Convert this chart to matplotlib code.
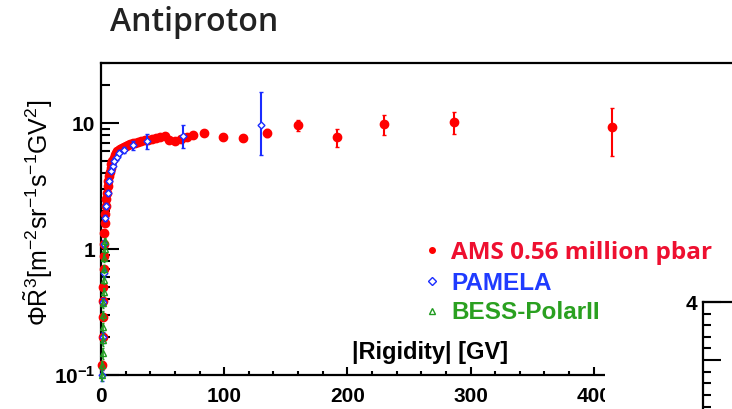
import matplotlib
matplotlib.use('Agg')
import matplotlib.pyplot as plt
from matplotlib.ticker import MultipleLocator, LogLocator, FuncFormatter, NullFormatter
from matplotlib.lines import Line2D
from matplotlib.patches import Rectangle

plt.rcParams['font.family'] = ['Liberation Sans', 'DejaVu Sans']
plt.rcParams['mathtext.fontset'] = 'custom'
plt.rcParams['mathtext.rm'] = 'Liberation Sans'
plt.rcParams['mathtext.it'] = 'Liberation Sans:italic'
plt.rcParams['mathtext.bf'] = 'Liberation Sans:bold'

# AMS antiproton, |R| [GV] vs flux * R^3
ams_rig = [1.1, 1.3, 1.5, 1.7, 1.9, 2.1, 2.3, 2.5, 2.8, 3.1,
           3.5, 3.9, 4.3, 4.8, 5.3, 5.9, 6.5, 7.1, 7.8, 8.5,
           9.3, 10.2, 11.2, 12.2, 13.3, 14.5, 15.8, 17.2, 18.7, 20.3,
           22.0, 23.9, 25.9, 28.0, 30.3, 32.8, 35.4, 38.2, 41.2, 44.4,
           47.9, 51.6, 55.6, 60.0, 64.6, 69.5, 74.8, 84, 99, 115,
           135, 160, 192, 230, 287, 415]
ams_val = [0.12, 0.2, 0.29, 0.39, 0.5, 0.7, 0.88, 1.1, 1.35, 1.6,
           1.9, 2.2, 2.5, 2.8, 3.15, 3.5, 3.8, 4.1, 4.4, 4.7,
           5.0, 5.3, 5.55, 5.75, 5.95, 6.1, 6.25, 6.4, 6.5, 6.6,
           6.7, 6.8, 6.9, 7.0, 7.1, 7.2, 7.3, 7.35, 7.45, 7.55,
           7.7, 7.9, 7.3, 7.2, 7.5, 7.8, 8.0, 8.3, 7.7, 7.6,
           8.3, 9.6, 7.7, 9.8, 10.2, 9.3]
ams_err = [0.01, 0.01, 0.015, 0.02, 0.02, 0.03, 0.03, 0.04, 0.04, 0.05,
           0.05, 0.06, 0.06, 0.07, 0.07, 0.08, 0.08, 0.09, 0.09, 0.1,
           0.1, 0.1, 0.11, 0.11, 0.12, 0.12, 0.13, 0.13, 0.14, 0.14,
           0.15, 0.15, 0.16, 0.16, 0.17, 0.17, 0.18, 0.18, 0.19, 0.2,
           0.2, 0.21, 0.22, 0.23, 0.24, 0.25, 0.27, 0.3, 0.32, 0.36,
           0.6, 0.9, 1.25, 1.7, 2.0, 3.8]

# PAMELA
pam_rig = [1.2, 1.5, 1.8, 2.1, 2.5, 3.2, 4.1, 5.7, 6.5, 8.1, 9.7, 10.6,
           13, 14.6, 18.7, 26, 37.3, 66.5, 130]
pam_val = [0.1, 0.2, 0.38, 0.65, 1.1, 1.76, 2.2, 2.8, 3.5, 4.2, 4.55, 5.0,
           5.4, 5.8, 6.1, 6.7, 7.2, 7.9, 9.7]
pam_lo = [0.01, 0.02, 0.03, 0.05, 0.07, 0.1, 0.12, 0.14, 0.16, 0.2, 0.22, 0.25,
          0.28, 0.3, 0.35, 0.55, 0.95, 1.6, 4.1]
pam_hi = [0.01, 0.02, 0.03, 0.05, 0.07, 0.1, 0.12, 0.14, 0.16, 0.2, 0.22, 0.25,
          0.28, 0.3, 0.35, 0.55, 0.95, 1.7, 7.9]

# BESS-PolarII
bess_rig = [1.0, 1.15, 1.3, 1.45, 1.6, 1.75, 1.9, 2.1, 2.3, 2.5, 2.75, 3.0, 3.3]
bess_val = [0.1, 0.12, 0.15, 0.19, 0.24, 0.3, 0.37, 0.46, 0.57, 0.7, 0.85, 1.0, 1.15]
bess_err = [0.01, 0.01, 0.015, 0.02, 0.02, 0.025, 0.03, 0.035, 0.04, 0.05, 0.06, 0.07, 0.08]

labels = ['AMS 0.56 million pbar', 'PAMELA', 'BESS-PolarII']
colors = ['#ff0000', '#1a2cff', '#1f9a1f']
text_colors = ['#ee1030', '#1f3bff', '#2aa020']

W, H = 732, 409
fig = plt.figure(figsize=(W / 100, H / 100), dpi=100)
fig.patch.set_facecolor('white')

ax = fig.add_axes([101 / W, 1 - 375 / H, 739 / W, 312 / H], zorder=0)

ax.errorbar(ams_rig, ams_val, yerr=ams_err, fmt='o', color=colors[0],
            markersize=6, elinewidth=1.5, capsize=1.5, clip_on=False, zorder=3)
ax.errorbar(pam_rig, pam_val, yerr=[pam_lo, pam_hi], fmt='D', color=colors[1],
            mfc='white', mec=colors[1], mew=1, markersize=3.5,
            elinewidth=1.5, capsize=1.5, clip_on=False, zorder=4)
ax.errorbar(bess_rig, bess_val, yerr=bess_err, fmt='^', color=colors[2],
            mfc='none', mec=colors[2], mew=1, markersize=4,
            elinewidth=1.2, capsize=1, clip_on=False, zorder=5)

ax.set_xlim(0, 600)
ax.set_yscale('log')
ax.set_ylim(0.1, 30)

ax.xaxis.set_major_locator(MultipleLocator(100))
ax.xaxis.set_minor_locator(MultipleLocator(20))
ax.xaxis.set_major_formatter(FuncFormatter(
    lambda v, _: f'{v:.0f}' if v <= 400 else ''))
ax.yaxis.set_major_locator(LogLocator(base=10))
ax.yaxis.set_minor_locator(LogLocator(base=10, subs=range(2, 10)))
ax.yaxis.set_minor_formatter(NullFormatter())
ytick_text = {0.1: r'$\mathbf{10^{-1}}$', 1: '1', 10: '10'}
ax.yaxis.set_major_formatter(FuncFormatter(
    lambda v, _: next((t for k, t in ytick_text.items() if abs(v - k) < 1e-9), '')))

ax.tick_params(axis='both', which='both', direction='in', width=1.5,
               labelsize=15, top=False, right=False)
ax.tick_params(axis='x', which='major', length=6, pad=9)
ax.tick_params(axis='x', which='minor', length=3)
ax.tick_params(axis='y', which='major', length=13, pad=4)
ax.tick_params(axis='y', which='minor', length=6.5)
for lab in ax.get_xticklabels() + ax.get_yticklabels():
    lab.set_fontweight('bold')
for side in ['left', 'bottom', 'top']:
    ax.spines[side].set_linewidth(1.6)
ax.spines['right'].set_visible(False)

fig.text(38 / W, 1 - 213 / H,
         r'$\Phi\tilde{\mathrm{R}}^{3}$[m$^{-2}$sr$^{-1}$s$^{-1}$GV$^{2}$]',
         rotation=90, ha='center', va='center', fontsize=18)
fig.text(508 / W, 1 - 352 / H, '|Rigidity| [GV]', ha='right', va='center',
         fontsize=17, fontweight='bold')
fig.text(110 / W, 1 - 31 / H, 'Antiproton', fontfamily='Open Sans',
         fontweight='semibold', fontsize=23, color='#222222', va='baseline')

# white block of the neighbouring panel
fig.add_artist(Rectangle((605 / W, 0), 1 - 605 / W, 1 - 280 / H,
                         transform=fig.transFigure, facecolor='white',
                         edgecolor='none', zorder=1))

# neighbouring panel (cut off)
ax2 = fig.add_axes([703 / W, -0.4, 0.2, (1 - 302 / H) + 0.4], zorder=2)
ax2.set_ylim(1.67, 4)
ax2.set_xticks([])
ax2.yaxis.set_major_locator(MultipleLocator(0.5))
ax2.yaxis.set_minor_locator(MultipleLocator(0.1))
ax2.yaxis.set_major_formatter(FuncFormatter(
    lambda v, _: f'{v:.0f}' if abs(v - round(v)) < 1e-6 else ''))
ax2.tick_params(axis='y', which='both', direction='in', width=1.5, labelsize=15)
ax2.tick_params(axis='y', which='major', length=13, pad=4)
ax2.tick_params(axis='y', which='minor', length=6)
for lab in ax2.get_yticklabels():
    lab.set_fontweight('bold')
ax2.spines['left'].set_linewidth(1.6)
ax2.spines['top'].set_linewidth(1.6)
ax2.spines['right'].set_visible(False)
ax2.spines['bottom'].set_visible(False)

handles = [
    Line2D([], [], marker='o', linestyle='none', color=colors[0], markersize=4),
    Line2D([], [], marker='D', linestyle='none', mfc='white', mec=colors[1],
           mew=1, markersize=4),
    Line2D([], [], marker='^', linestyle='none', mfc='white', mec=colors[2],
           mew=1, markersize=4),
]
leg = fig.legend(handles, labels, loc='upper left',
                 bbox_to_anchor=(422 / W, 1 - 241 / H), bbox_transform=fig.transFigure,
                 frameon=False, fontsize=17.5, handlelength=0.8, handletextpad=0.4,
                 labelspacing=0.27, borderpad=0, borderaxespad=0)
leg.set_zorder(5)
for txt, c in zip(leg.get_texts(), text_colors):
    txt.set_color(c)
    txt.set_fontweight('bold')
leg.get_texts()[0].set_fontfamily('Open Sans')

fig.savefig('out.png', dpi=100)
